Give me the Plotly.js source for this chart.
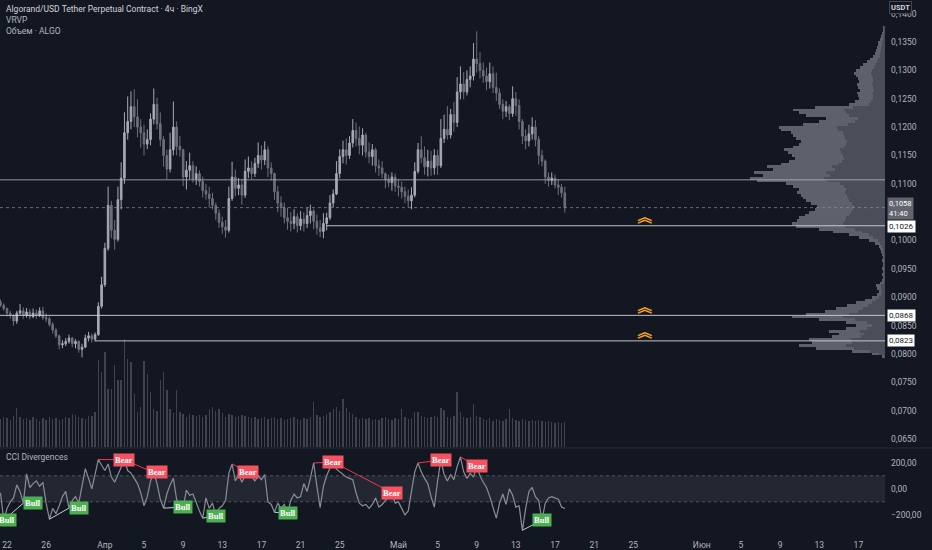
<!DOCTYPE html>
<html>
<head>
<meta charset="utf-8">
<script src="https://cdn.plot.ly/plotly-3.0.1.min.js"></script>
<style>
html,body{margin:0;padding:0;background:#131722;}
#chart{width:932px;height:550px;}
</style>
</head>
<body>
<div id="chart"></div>
<script>
// ---------- DATA (8h candles from 2024-03-21 08:00) ----------
const candleStart = Date.UTC(2024, 2, 21, 8);
const candleHours = 8;

const open = [
.0892,.0886,.0880,.0872,.0868,.0858,.0872,.0876,.0868,.0874,
.0866,.0872,.0868,.0876,.0864,.0862,.0852,.0842,.0832,.0816,
.0818,.0822,.0828,.0818,.0822,.0808,.0812,.0828,.0832,.0826,
.0834,.0884,.0922,.0986,.1062,.1018,.1002,.1072,.1110,.1190,
.1210,.1236,.1218,.1200,.1190,.1170,.1178,.1214,.1240,.1206,
.1178,.1150,.1126,.1160,.1200,.1166,.1160,.1112,.1124,.1132,
.1108,.1118,.1104,.1088,.1082,.1074,.1062,.1048,.1032,.1024,
.1018,.1074,.1112,.1092,.1098,.1080,.1122,.1128,.1118,.1136,
.1150,.1142,.1160,.1128,.1118,.1086,.1066,.1058,.1040,.1034,
.1030,.1042,.1026,.1038,.1030,.1044,.1052,.1034,.1022,.1016,
.1030,.1040,.1066,.1082,.1118,.1148,.1160,.1150,.1172,.1194,
.1180,.1168,.1186,.1156,.1148,.1160,.1132,.1128,.1118,.1108,
.1102,.1112,.1096,.1094,.1086,.1078,.1070,.1080,.1122,.1160,
.1146,.1130,.1140,.1128,.1150,.1132,.1180,.1196,.1186,.1222,
.1208,.1262,.1276,.1262,.1284,.1290,.1320,.1312,.1300,.1290,
.1280,.1294,.1270,.1260,.1240,.1228,.1236,.1224,.1250,.1238,
.1210,.1184,.1176,.1188,.1200,.1178,.1150,.1140,.1112,.1106,
.1110,.1098,.1094,.1084];

const high = [
.0896,.0889,.0882,.0876,.0870,.0876,.0888,.0882,.0881,.0879,
.0880,.0878,.0882,.0883,.0872,.0866,.0856,.0846,.0834,.0824,
.0828,.0834,.0830,.0826,.0824,.0818,.0834,.0839,.0836,.0838,
.0891,.0936,.0996,.1095,.1070,.1036,.1095,.1138,.1226,.1254,
.1263,.1267,.1249,.1214,.1204,.1196,.1224,.1268,.1252,.1226,
.1184,.1160,.1190,.1245,.1210,.1184,.1162,.1140,.1155,.1140,
.1131,.1124,.1113,.1100,.1095,.1084,.1067,.1055,.1042,.1036,
.1095,.1139,.1125,.1110,.1108,.1143,.1148,.1140,.1146,.1173,
.1168,.1175,.1166,.1138,.1120,.1096,.1078,.1067,.1058,.1050,
.1055,.1048,.1052,.1050,.1058,.1063,.1056,.1046,.1036,.1048,
.1049,.1080,.1090,.1140,.1161,.1176,.1180,.1184,.1214,.1208,
.1201,.1198,.1190,.1173,.1170,.1164,.1143,.1140,.1120,.1116,
.1120,.1118,.1108,.1104,.1095,.1090,.1094,.1138,.1172,.1184,
.1166,.1160,.1158,.1161,.1160,.1214,.1222,.1237,.1232,.1244,
.1288,.1307,.1297,.1300,.1307,.1348,.1369,.1332,.1314,.1305,
.1314,.1307,.1296,.1268,.1249,.1246,.1240,.1272,.1262,.1249,
.1214,.1196,.1204,.1217,.1212,.1184,.1160,.1143,.1120,.1120,
.1116,.1108,.1100,.1095];

const low = [
.0883,.0876,.0866,.0862,.0850,.0853,.0868,.0862,.0864,.0861,
.0863,.0862,.0865,.0860,.0856,.0848,.0836,.0828,.0808,.0810,
.0814,.0818,.0812,.0810,.0802,.0794,.0810,.0822,.0820,.0822,
.0832,.0880,.0918,.0982,.1004,.0984,.0998,.1055,.1100,.1178,
.1196,.1200,.1182,.1164,.1150,.1161,.1168,.1205,.1196,.1166,
.1130,.1108,.1120,.1150,.1150,.1148,.1096,.1090,.1108,.1102,
.1098,.1095,.1076,.1072,.1058,.1055,.1036,.1022,.1012,.1005,
.1014,.1070,.1078,.1080,.1063,.1075,.1110,.1108,.1112,.1128,
.1125,.1133,.1112,.1106,.1072,.1050,.1042,.1030,.1019,.1016,
.1020,.1014,.1018,.1016,.1022,.1030,.1020,.1010,.1006,.1004,
.1018,.1036,.1058,.1080,.1110,.1136,.1134,.1144,.1164,.1166,
.1152,.1150,.1146,.1136,.1132,.1120,.1114,.1110,.1092,.1094,
.1088,.1086,.1078,.1074,.1066,.1058,.1055,.1076,.1118,.1136,
.1116,.1113,.1114,.1116,.1116,.1128,.1172,.1178,.1180,.1192,
.1200,.1249,.1249,.1256,.1270,.1282,.1296,.1286,.1278,.1265,
.1268,.1260,.1246,.1232,.1214,.1218,.1212,.1218,.1220,.1196,
.1170,.1161,.1166,.1178,.1166,.1134,.1131,.1100,.1095,.1098,
.1092,.1080,.1076,.1049];

const close = [
.0886,.0880,.0872,.0868,.0858,.0872,.0876,.0868,.0874,.0866,
.0872,.0868,.0876,.0864,.0862,.0852,.0842,.0832,.0816,.0818,
.0822,.0828,.0818,.0822,.0808,.0812,.0828,.0832,.0826,.0834,
.0884,.0922,.0986,.1062,.1018,.1002,.1072,.1110,.1190,.1210,
.1236,.1218,.1200,.1190,.1170,.1178,.1214,.1240,.1206,.1178,
.1150,.1126,.1160,.1200,.1166,.1160,.1112,.1124,.1132,.1108,
.1118,.1104,.1088,.1082,.1074,.1062,.1048,.1032,.1024,.1018,
.1074,.1112,.1092,.1098,.1080,.1122,.1128,.1118,.1136,.1150,
.1142,.1160,.1128,.1118,.1086,.1066,.1058,.1040,.1034,.1030,
.1042,.1026,.1038,.1030,.1044,.1052,.1034,.1022,.1016,.1030,
.1040,.1066,.1082,.1118,.1148,.1160,.1150,.1172,.1194,.1180,
.1168,.1186,.1156,.1148,.1160,.1132,.1128,.1118,.1108,.1102,
.1112,.1096,.1094,.1086,.1078,.1070,.1080,.1122,.1160,.1146,
.1130,.1140,.1128,.1150,.1132,.1180,.1196,.1186,.1222,.1208,
.1262,.1276,.1262,.1284,.1290,.1320,.1312,.1300,.1290,.1280,
.1294,.1270,.1260,.1240,.1228,.1236,.1224,.1250,.1238,.1210,
.1184,.1176,.1188,.1200,.1178,.1150,.1140,.1112,.1106,.1110,
.1098,.1094,.1084,.1058];

// volume, millions of ALGO
const volume = [
28,30,29,27,31,39,30,28,29,27,
30,28,26,29,27,30,28,29,27,28,
30,29,33,32,30,29,28,31,31,35,
87,75,95,58,58,82,67,67,108,88,
85,53,35,40,86,73,55,38,36,67,
75,57,38,34,57,35,33,30,33,32,
31,32,30,32,38,40,36,38,34,30,
33,32,30,31,32,31,30,29,30,28,
29,30,28,29,30,28,29,27,28,29,
30,28,27,29,28,30,45,32,30,31,
33,35,38,40,36,48,39,35,33,30,
28,29,28,29,27,28,27,29,30,28,
27,29,28,38,30,28,29,35,35,31,
30,29,30,31,30,39,37,30,29,31,
55,35,30,29,30,43,31,30,28,27,
29,26,28,27,26,28,38,29,27,26,
28,27,26,27,26,27,26,25,26,25,
24,25,24,25];

const cci = [
-30,-240,-150,-100,-70,30,-20,-110,115,10,
40,60,20,50,-110,-233,-150,-190,-130,-60,
-20,-148,-90,-60,-110,40,155,80,0,110,
225,180,140,190,90,50,110,170,222,140,
120,80,40,-30,-130,-60,60,125,40,-80,
-148,-40,30,80,-80,-120,-140,-10,-50,-40,
-110,-170,-225,-70,-150,-110,-205,-150,-130,-90,
120,190,60,110,50,100,128,90,60,100,
70,110,-100,-120,-180,-110,-150,-120,-185,-90,
-40,-70,-60,40,-20,80,198,20,-145,20,
100,160,205,150,130,110,90,80,70,-30,
-110,-130,-120,-150,-120,-70,-140,-120,-90,-60,
-30,-110,-100,-150,-200,-170,-20,130,198,130,
80,40,-60,-140,60,220,110,60,110,70,
170,244,130,80,120,90,175,100,50,10,
-60,-140,-225,-110,-40,-120,0,-50,-140,-130,
-318,-150,-20,10,-60,-90,-240,-110,-70,-60,
-70,-80,-140,-150];

// CCI divergences: pivot indices and label bar
const divFrom    = [-1, 1, 15, 30, 38, 50, 62, 71, 84, 96, 102, 128, 141, 160];
const divTo      = [ 1, 7, 21, 38, 47, 56, 66, 76, 88, 102, 120, 135, 146, 166];
const divLabelAt = [ 2, 10, 24, 38, 48, 56, 66, 76, 88, 102, 120, 135, 146, 166];
const divType    = ['Bull','Bull','Bull','Bear','Bear','Bull','Bull','Bear','Bull','Bear','Bear','Bear','Bear','Bull'];

// Volume profile (VRVP) rows
const vpLevels = [
.0795,.0800,.0805,.0810,.0815,.0820,.0825,.0830,.0835,.0840,.0845,.0850,.0855,.0860,.0865,.0870,.0875,.0880,.0885,.0890,
.0895,.0900,.0905,.0910,.0915,.0920,.0925,.0930,.0935,.0940,.0945,.0950,.0955,.0960,.0965,.0970,.0975,.0980,.0985,.0990,
.0995,.1000,.1005,.1010,.1015,.1020,.1025,.1030,.1035,.1040,.1045,.1050,.1055,.1060,.1065,.1070,.1075,.1080,.1085,.1090,
.1095,.1100,.1105,.1110,.1115,.1120,.1125,.1130,.1135,.1140,.1145,.1150,.1155,.1160,.1165,.1170,.1175,.1180,.1185,.1190,
.1195,.1200,.1205,.1210,.1215,.1220,.1225,.1230,.1235,.1240,.1245,.1250,.1255,.1260,.1265,.1270,.1275,.1280,.1285,.1290,
.1295,.1300,.1305,.1310,.1315,.1320,.1325,.1330,.1335,.1340,.1345,.1350,.1355,.1360,.1365,.1370,.1375];
const vpDown = [
1,6,15,31,39,33,34,24,21,25,18,13,18,30,42,36,27,22,17,13,
9,6,4,3,4,4,2,1,1,1,1,1,1,1,1,1,1,2,2,3,
5,7,12,16,23,30,40,42,40,39,36,34,32,31,33,36,37,38,40,39,
41,45,58,61,55,59,50,53,47,43,41,42,44,45,41,39,38,40,41,42,
47,48,37,30,27,36,39,41,32,16,14,12,12,13,11,12,13,12,12,13,
14,13,11,10,8,7,5,5,4,4,3,3,2,2,1,1,1];
const vpUp = [
2,7,18,38,47,40,42,29,25,31,21,16,21,36,51,43,33,27,21,16,
11,7,4,3,4,5,3,2,1,2,1,2,1,1,2,1,2,2,3,3,
5,9,14,20,29,36,49,51,48,47,44,42,38,37,41,43,45,46,48,47,
51,54,70,74,67,72,62,65,57,53,49,51,53,56,51,47,46,49,51,52,
57,58,45,36,32,43,47,51,38,20,16,14,15,15,14,15,15,14,15,16,
17,16,14,12,10,8,7,5,5,4,4,4,3,2,2,1,1];

// Horizontal levels (start bar index, -1 = from left edge)
const hLevels   = [0.1107, 0.1026, 0.0868, 0.0823];
const hStartIdx = [-1, 100, -1, 29];
const hLabeled  = [false, true, true, true];
const signalDate = '2024-05-26 04:00';
const signalLevels = [0.1026, 0.0868, 0.0823];
const countdown = '41:40';

// Time axis ticks (0,1050 sits under the last-price tag in the reference)
const tickDates = ['2024-03-22','2024-03-26','2024-04-01','2024-04-05','2024-04-09','2024-04-13','2024-04-17','2024-04-21','2024-04-25',
  '2024-05-01','2024-05-05','2024-05-09','2024-05-13','2024-05-17','2024-05-21','2024-05-25','2024-06-01','2024-06-05','2024-06-09','2024-06-13','2024-06-17'];
const tickLabels = ['22','26','Апр','5','9','13','17','21','25','Май','5','9','13','17','21','25','Июн','5','9','13','17'];
const priceTicks = [0.065,0.070,0.075,0.080,0.085,0.090,0.095,0.100,0.110,0.115,0.120,0.125,0.130,0.135,0.140];
const cciTicks = [-200, 0, 200];

// ---------- BUILD ----------
const fmt = d => d.toISOString().slice(0,16).replace('T',' ');
const times = close.map((_, i) => fmt(new Date(candleStart + i*candleHours*3600000)));
const lastClose = close[close.length-1];

const BG = '#131722';
const TXT = '#b2b5be';
const FONT = 'Roboto, "Noto Sans", sans-serif';

const traces = [];
traces.push({
  type:'bar', x:times, y:volume, xaxis:'x', yaxis:'y3',
  marker:{color:'rgba(120,123,134,0.45)', line:{width:0}},
  width: candleHours*3600000*0.42, hoverinfo:'skip', showlegend:false
});
traces.push({
  type:'candlestick', x:times, open:open, high:high, low:low, close:close,
  xaxis:'x', yaxis:'y',
  increasing:{line:{color:'#a7aab3', width:1}, fillcolor:'#a7aab3'},
  decreasing:{line:{color:'#6d707b', width:1}, fillcolor:'#6d707b'},
  whiskerwidth:0, showlegend:false, hoverinfo:'skip'
});
traces.push({
  type:'bar', orientation:'h', y:vpLevels, x:vpDown, xaxis:'x2', yaxis:'y',
  width:0.0005, marker:{color:'rgba(85,88,98,0.85)', line:{width:0}}, showlegend:false, hoverinfo:'skip'
});
traces.push({
  type:'bar', orientation:'h', y:vpLevels, x:vpUp, xaxis:'x2', yaxis:'y',
  width:0.0005, marker:{color:'rgba(120,123,134,0.75)', line:{width:0}}, showlegend:false, hoverinfo:'skip'
});
traces.push({
  type:'scatter', mode:'text', x:signalLevels.map(()=>signalDate), y:signalLevels,
  text:signalLevels.map(()=> '︽'), textposition:'top center',
  textfont:{color:'#f7a21b', size:15, weight:'bold', family:'"Noto Sans CJK SC"'},
  xaxis:'x', yaxis:'y', showlegend:false, hoverinfo:'skip'
});
traces.push({
  type:'scatter', mode:'lines', x:times, y:cci, xaxis:'x', yaxis:'y2',
  line:{color:'#8b8e97', width:1.2}, showlegend:false, hoverinfo:'skip'
});
for (let k=0;k<divTo.length;k++){
  if (divFrom[k] < 0) continue;
  traces.push({
    type:'scatter', mode:'lines', x:[times[divFrom[k]], times[divTo[k]]], y:[cci[divFrom[k]], cci[divTo[k]]],
    xaxis:'x', yaxis:'y2', line:{color: divType[k]==='Bull' ? '#c9cbd1' : '#f23645', width:1},
    showlegend:false, hoverinfo:'skip'
  });
}

const shapes = [];
shapes.push({type:'rect', xref:'paper', yref:'y2', x0:0, x1:1, y0:-100, y1:100, fillcolor:'rgba(120,123,134,0.16)', line:{width:0}, layer:'below'});
[-100,100].forEach(v=>shapes.push({type:'line', xref:'paper', yref:'y2', x0:0, x1:1, y0:v, y1:v, line:{color:'rgba(120,123,134,0.55)', width:1, dash:'dot'}}));
shapes.push({type:'line', xref:'paper', yref:'paper', x0:0, x1:1.06, y0:0.1579, y1:0.1579, line:{color:'#2a2e39', width:1}});
hLevels.forEach((lv,k)=>{
  const s = hStartIdx[k];
  shapes.push({type:'line', xref: s<0 ? 'paper' : 'x', yref:'y',
    x0: s<0 ? 0 : times[s], x1: s<0 ? 1 : '2024-06-19 17:17', y0:lv, y1:lv,
    line:{color: k===0 ? 'rgba(178,181,190,0.8)' : 'rgba(209,212,220,0.9)', width:1}});
});
shapes.push({type:'line', xref:'paper', yref:'y', x0:0, x1:1, y0:lastClose, y1:lastClose, line:{color:'rgba(140,143,152,0.7)', width:1, dash:'dot'}});

const annotations = [];
const topTexts = ['Algorand/USD Tether Perpetual Contract · 4ч · BingX','VRVP','Объем · ALGO'];
topTexts.forEach((t,k)=>annotations.push({xref:'paper', yref:'paper', x:0, y:1, xanchor:'left', yanchor:'top',
  xshift:4, yshift:-2-k*11, text:t, showarrow:false, font:{family:FONT, size:8.5, color: k===0 ? '#d1d4dc' : TXT}}));
annotations.push({xref:'paper', yref:'paper', x:0, y:0.156, xanchor:'left', yanchor:'top', xshift:4, yshift:-1,
  text:'CCI Divergences', showarrow:false, font:{family:FONT, size:8.5, color:TXT}});
annotations.push({xref:'paper', yref:'paper', x:1, y:1, xanchor:'left', yanchor:'top', xshift:4, yshift:-1,
  text:'<b>USDT</b>', showarrow:false, bgcolor:BG, bordercolor:'#434651', borderwidth:1, borderpad:1,
  font:{family:FONT, size:7.5, color:'#d1d4dc'}});
// current price label + countdown (one box, two lines)
annotations.push({xref:'paper', yref:'y', x:1, y:lastClose, xanchor:'left', yanchor:'middle', xshift:2, yshift:-1,
  text:lastClose.toFixed(4).replace('.',',')+'<br>'+countdown, showarrow:false, bgcolor:'#62656f', borderpad:1,
  font:{family:FONT, size:7.5, color:'#ffffff'}, align:'left'});
hLevels.forEach((lv,k)=>{ if(!hLabeled[k]) return;
  annotations.push({xref:'paper', yref:'y', x:1, y:lv, xanchor:'left', yanchor:'middle', xshift:2, yshift: k===1 ? -1 : 0,
    text:lv.toFixed(4).replace('.',','), showarrow:false, bgcolor:'#ffffff', borderpad:1,
    font:{family:FONT, size:8, color:'#131722'}});
});
for (let k=0;k<divTo.length;k++){
  annotations.push({xref:'x', yref:'y2', x:times[divLabelAt[k]], y:cci[divTo[k]], xanchor:'center', yanchor:'middle',
    text:'<b>'+divType[k]+'</b>', showarrow:false, bgcolor: divType[k]==='Bull' ? '#4caf50' : '#f7525f', borderpad:1,
    font:{family:'"Liberation Serif", serif', size:8.5, color:'#ffffff'}});
}

const layout = {
  width:932, height:550, paper_bgcolor:BG, plot_bgcolor:BG,
  margin:{l:0, r:47, t:0, b:18}, showlegend:false, separators:', ',
  font:{family:FONT, size:8.5, color:TXT},
  barmode:'stack', bargap:0,
  xaxis:{type:'date', anchor:'y2', range:['2024-03-21 06:50','2024-06-19 17:17'],
    tickvals:tickDates, ticktext:tickLabels, showgrid:false, zeroline:false, showline:false, ticks:'',
    tickfont:{size:8.5, color:TXT}, ticklabelstandoff:6, rangeslider:{visible:false}, fixedrange:true},
  xaxis2:{overlaying:'x', anchor:'y', range:[885,0], visible:false, showgrid:false, zeroline:false},
  yaxis:{domain:[0.1598,1], range:[0.06359,0.14241], side:'right', tickvals:priceTicks, tickformat:'.4f',
    showgrid:false, zeroline:false, showline:false, ticks:'', tickfont:{size:8.5, color:TXT}, ticklabelstandoff:5},
  yaxis2:{domain:[0,0.156], range:[-331,305], side:'right', tickvals:cciTicks, tickformat:'.2f',
    showgrid:false, zeroline:false, showline:false, ticks:'', tickfont:{size:8.5, color:TXT}, ticklabelstandoff:5},
  yaxis3:{overlaying:'y', range:[0,447], visible:false, showgrid:false, zeroline:false},
  shapes:shapes, annotations:annotations
};

Plotly.newPlot('chart', traces, layout, {staticPlot:true, displayModeBar:false});
</script>
</body>
</html>
